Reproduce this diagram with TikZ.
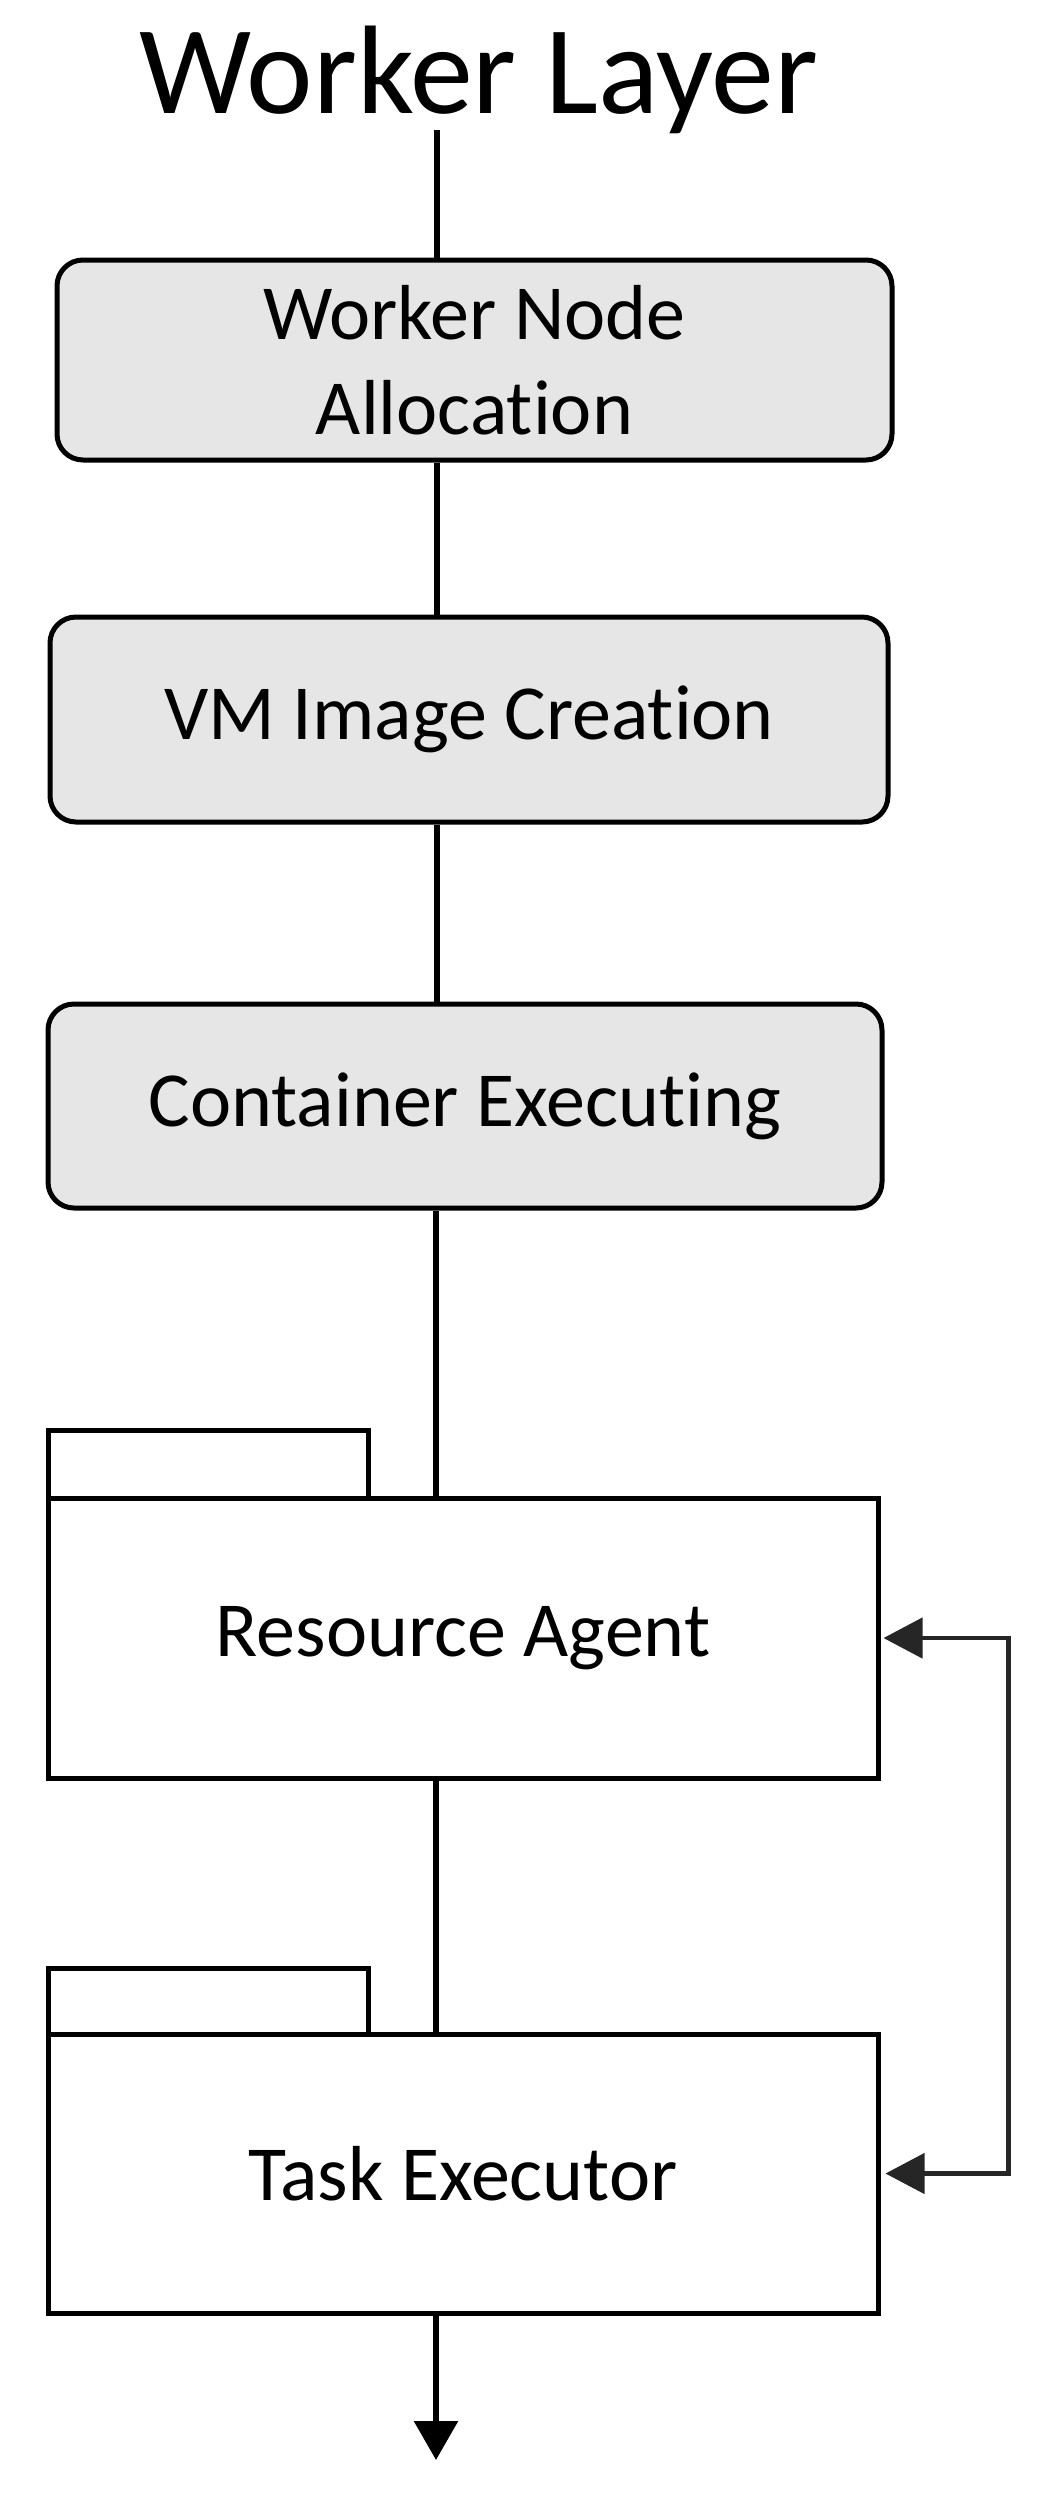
\documentclass[tikz,border=0pt]{standalone}
\usepackage{fontspec}
\setmainfont{Carlito}[Ligatures=NoCommon,RawFeature=-liga]
\usetikzlibrary{arrows.meta}
\definecolor{boxgray}{RGB}{230,230,230}
\begin{document}
\begin{tikzpicture}[x=1pt,y=-1pt,
  procbox/.style={draw=black, line width=5pt, fill=boxgray, rounded corners=26pt,
    inner sep=0pt, font=\fontsize{78}{95}\selectfont, align=center},
  pkgbody/.style={draw=black, line width=5pt, fill=white, inner sep=0pt,
    font=\fontsize{78}{95}\selectfont, align=center},
  pkgtab/.style={draw=black, line width=5pt, fill=white, inner sep=0pt},
  conn/.style={line width=6pt, black},
  fbline/.style={line width=4.5pt, black!85}
]
\useasboundingbox (0,0) rectangle (1049,2493);

\node[font=\fontsize{126}{150}\selectfont, anchor=base, inner sep=0pt] (title) at (479,113) {Worker Layer};
\coordinate (t0) at (437,130);

\node[procbox, minimum width=835pt, minimum height=200pt] (b1) at (474.5,360) {Worker Node\\Allocation};
\node[procbox, minimum width=838pt, minimum height=205pt] (b2) at (469,719.5) {VM Image Creation};
\node[procbox, minimum width=834pt, minimum height=204pt] (b3) at (465,1106) {Container Executing};

\node[pkgtab, minimum width=320pt, minimum height=68pt] (tab1) at (208,1464) {};
\node[pkgbody, minimum width=830pt, minimum height=280pt] (ra) at (463,1638) {Resource Agent};
\node[pkgtab, minimum width=320pt, minimum height=66pt] (tab2) at (208,2001) {};
\node[pkgbody, minimum width=830pt, minimum height=279pt] (te) at (463,2173.5) {Task Executor};

\coordinate (p0) at (436,0);
\coordinate (endpt) at (436,2460);

\draw[conn] (t0) -- (t0 |- b1.north);
\draw[conn] (b1.south -| t0) -- (b2.north -| t0);
\draw[conn] (b2.south -| t0) -- (b3.north -| t0);
\draw[conn] (b3.south -| p0) -- (ra.north -| p0);
\draw[conn] (ra.south -| p0) -- (te.north -| p0);
\draw[conn, -{Triangle[length=39pt,width=43pt]}] (te.south -| p0) -- (endpt);

\draw[fbline, {Triangle[length=39pt,width=40pt]}-{Triangle[length=39pt,width=40pt]}]
  ([xshift=3pt]ra.east) -- ++(125,0) |- ([xshift=5pt]te.east);
\end{tikzpicture}
\end{document}
